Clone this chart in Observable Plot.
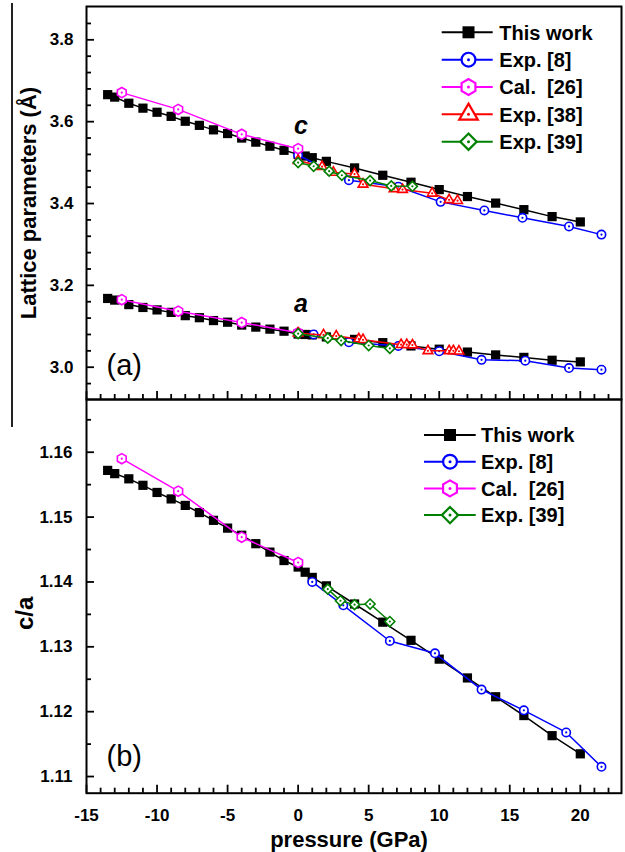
<!DOCTYPE html>
<html><head><meta charset="utf-8">
<script src="https://cdn.jsdelivr.net/npm/d3@7"></script>
<script src="https://cdn.jsdelivr.net/npm/@observablehq/plot@0.6"></script>
<style>
html,body{margin:0;padding:0;background:#fff;}
#wrap{position:relative;width:625px;height:852px;overflow:hidden;background:#fff;}
#edge{position:absolute;left:11px;top:3px;width:1.5px;height:424px;background:#222;}
</style></head><body>
<div id="wrap"><div id="edge"></div></div>
<script>
// ---------------- DATA ----------------
const seriesNames   = ["This work", "Exp. [8]", "Cal.  [26]", "Exp. [38]", "Exp. [39]"];
const seriesColors  = ["#000000", "#0000ff", "#ff00ff", "#ff0000", "#008000"];
const seriesSymbols = ["square", "circle", "hexagon", "triangle", "diamond2"];

// This work
const workP     = [-13.5,-13,-12,-11,-10,-9,-8,-7,-6,-5,-4,-3,-2,-1,0,0.5,1,2,4,6,8,10,12,14,16,18,20];
const workC     = [3.666,3.660,3.645,3.633,3.623,3.613,3.601,3.591,3.580,3.571,3.560,3.550,3.540,3.530,3.520,3.516,3.512,3.503,3.487,3.469,3.452,3.434,3.417,3.401,3.385,3.368,3.355];
const workA     = [3.168,3.164,3.153,3.146,3.140,3.134,3.126,3.121,3.114,3.110,3.103,3.098,3.093,3.088,3.081,3.080,3.079,3.074,3.068,3.060,3.052,3.044,3.037,3.030,3.024,3.017,3.013];
const workRatio = [1.1572,1.1567,1.1559,1.1549,1.1538,1.1528,1.1518,1.1507,1.1495,1.1483,1.1472,1.1459,1.1446,1.1433,1.1423,1.1415,1.1407,1.1394,1.1366,1.1338,1.1310,1.1281,1.1252,1.1223,1.1194,1.1163,1.1135];

// Exp. [8]
const exp8CP     = [0, 3.6, 7.1, 10.1, 13.2, 15.9, 19.2, 21.5];
const exp8C      = [3.518, 3.457, 3.441, 3.404, 3.383, 3.365, 3.344, 3.324];
const exp8AP     = [1.1, 3.6, 7.1, 10.0, 13.0, 16.1, 19.2, 21.5];
const exp8A      = [3.080, 3.061, 3.052, 3.039, 3.018, 3.016, 2.998, 2.994];
const exp8RatioP = [1.0, 3.2, 6.5, 9.7, 13.0, 16.0, 19.0, 21.5];
const exp8Ratio  = [1.1400, 1.1364, 1.1309, 1.1290, 1.1234, 1.1202, 1.1168, 1.1115];

// Cal. [26]
const cal26P     = [-12.5, -8.5, -4, 0];
const cal26C     = [3.671, 3.630, 3.569, 3.534];
const cal26A     = [3.165, 3.137, 3.109, 3.084];
const cal26Ratio = [1.1590, 1.1540, 1.1469, 1.1430];

// Exp. [38]
const exp38CP = [0, 1.7, 2.5, 4.0, 4.6, 6.8, 7.4, 9.5, 10.7, 11.3];
const exp38C  = [3.505, 3.490, 3.476, 3.472, 3.447, 3.436, 3.434, 3.425, 3.409, 3.407];
const exp38AP = [0, 1.8, 2.7, 4.3, 4.6, 7.3, 7.7, 8.1, 9.2, 10.7, 11.0, 11.4];
const exp38A  = [3.083, 3.079, 3.076, 3.069, 3.067, 3.055, 3.055, 3.054, 3.040, 3.040, 3.040, 3.039];

// Exp. [39]
const exp39CP     = [0, 1.1, 2.2, 3.1, 5.1, 6.6, 8.1];
const exp39C      = [3.500, 3.491, 3.479, 3.469, 3.456, 3.443, 3.442];
const exp39AP     = [0, 2.1, 3.05, 5.0, 6.5];
const exp39A      = [3.082, 3.071, 3.065, 3.053, 3.046];
const exp39RatioP = [2.1, 3.0, 4.0, 5.1, 6.5];
const exp39Ratio  = [1.1389, 1.1371, 1.1365, 1.1366, 1.1339];

// Axis ticks
const xMajor      = [-15, -10, -5, 0, 5, 10, 15, 20];
const yMajorTop   = [3.0, 3.2, 3.4, 3.6, 3.8];
const yMajorBot   = [1.11, 1.12, 1.13, 1.14, 1.15, 1.16];
const annotations = [{label: "c", P: 0.2, v: 3.570}, {label: "a", P: 0.2, v: 3.134}];

// ---------------- LAYOUT ----------------
const FONT = '"Liberation Sans", Arial, Helvetica, sans-serif';
const W = 625, ML = 86, MR = 4;
const H1 = 400, MT1 = 6, MB1 = 1;
const H2 = 453, MT2 = 0, MB2 = 59.3;
const FW = W - ML - MR;
const FH1 = H1 - MT1 - MB1, FH2 = H2 - MT2 - MB2;

const rows = (P, V, g) => P.map((p, i) => ({P: p, v: V[i], g}));
const rSym = [5.2, 4.2, 4.4, 3.6, 4.5];

function seriesMarks(data, i) {
  const color = seriesColors[i];
  const marks = [Plot.line(data, {x: "P", y: "v", z: "g", stroke: color, strokeWidth: 1.5})];
  if (i === 0) {
    marks.push(Plot.dot(data, {x: "P", y: "v", symbol: seriesSymbols[i], r: rSym[i], fill: color, stroke: "none"}));
  } else {
    marks.push(Plot.dot(data, {x: "P", y: "v", symbol: seriesSymbols[i], r: rSym[i], fill: "white", stroke: color, strokeWidth: 1.6}));
    marks.push(Plot.dot(data, {x: "P", y: "v", r: 1.1, fill: color, stroke: "none"}));
  }
  return marks;
}

const xMinor = d3.range(-15, 23, 1).filter(d => !xMajor.includes(d));
const yMinorTop = d3.range(0, 25).map(k => Math.round((2.96 + 0.04 * k) * 100) / 100).filter(d => d <= 3.86 && !yMajorTop.some(m => Math.abs(m - d) < 1e-6));
const yMinorBot = d3.range(0, 6).map(k => Math.round((1.115 + 0.01 * k) * 1000) / 1000);

function tickMarks(fh, yMaj, yMin) {
  return [
    Plot.tickX(xMajor, {x: d => d, insetTop: fh - 8, stroke: "black", strokeWidth: 1.8}),
    Plot.tickX(xMinor, {x: d => d, insetTop: fh - 5, stroke: "black", strokeWidth: 1.8}),
    Plot.tickY(yMaj, {y: d => d, insetRight: FW - 8, stroke: "black", strokeWidth: 1.8}),
    Plot.tickY(yMin, {y: d => d, insetRight: FW - 5, stroke: "black", strokeWidth: 1.8})
  ];
}

const baseStyle = {fontFamily: FONT, fontWeight: "bold", background: "transparent", overflow: "visible"};

function boldTicks(svg) {
  d3.select(svg).selectAll('g[aria-label$="tick label"]').attr("font-weight", "bold").style("font-weight", "bold");
}

// ---------------- TOP PANEL ----------------
const topSeries = [
  [...rows(workP, workC, "c"), ...rows(workP, workA, "a")],
  [...rows(exp8CP, exp8C, "c"), ...rows(exp8AP, exp8A, "a")],
  [...rows(cal26P, cal26C, "c"), ...rows(cal26P, cal26A, "a")],
  [...rows(exp38CP, exp38C, "c"), ...rows(exp38AP, exp38A, "a")],
  [...rows(exp39CP, exp39C, "c"), ...rows(exp39AP, exp39A, "a")]
];

const chartA = Plot.plot({
  width: W, height: H1,
  marginLeft: ML, marginRight: MR, marginTop: MT1, marginBottom: MB1,
  style: baseStyle,
  x: {domain: [-15, 22.92], axis: null},
  y: {domain: [2.9211, 3.8814]},
  marks: [
    ...tickMarks(FH1, yMajorTop, yMinorTop),
    Plot.axisY(yMajorTop, {anchor: "left", tickSize: 0, tickPadding: 13, fontSize: 17, fontWeight: "bold", tickFormat: d => d.toFixed(1), label: null}),
    ...topSeries.flatMap((d, i) => seriesMarks(d, i)),
    Plot.text(annotations, {x: "P", y: "v", text: "label", fontSize: 25, fontWeight: "bold", fontStyle: "italic", lineAnchor: "bottom", textAnchor: "middle"}),
    Plot.text(["(a)"], {frameAnchor: "bottom-left", dx: 20, dy: -34, textAnchor: "start", lineAnchor: "middle", fontSize: 29, fontWeight: "normal"}),
    Plot.text(["Lattice parameters (Å)"], {frameAnchor: "left", dx: -58, rotate: -90, textAnchor: "middle", lineAnchor: "middle", fontSize: 22, fontWeight: "bold"}),
    Plot.frame({stroke: "black", strokeWidth: 2})
  ]
});
boldTicks(chartA);
chartA.style.position = "absolute"; chartA.style.left = "0px"; chartA.style.top = "0px";
document.getElementById("wrap").appendChild(chartA);

// ---------------- BOTTOM PANEL ----------------
const botSeries = [
  rows(workP, workRatio, "r"),
  rows(exp8RatioP, exp8Ratio, "r"),
  rows(cal26P, cal26Ratio, "r"),
  null,
  rows(exp39RatioP, exp39Ratio, "r")
];

const chartB = Plot.plot({
  width: W, height: H2,
  marginLeft: ML, marginRight: MR, marginTop: MT2, marginBottom: MB2,
  style: baseStyle,
  x: {domain: [-15, 22.92]},
  y: {domain: [1.10743, 1.16813]},
  marks: [
    ...tickMarks(FH2, yMajorBot, yMinorBot),
    Plot.axisY(yMajorBot, {anchor: "left", tickSize: 0, tickPadding: 14, fontSize: 17, fontWeight: "bold", tickFormat: d => d.toFixed(2), label: null}),
    Plot.axisX(xMajor, {anchor: "bottom", tickSize: 0, tickPadding: 16, fontSize: 17, fontWeight: "bold", tickFormat: d => String(d), label: null}),
    ...botSeries.flatMap((d, i) => d ? seriesMarks(d, i) : []),
    Plot.text(["(b)"], {frameAnchor: "bottom-left", dx: 20, dy: -36, textAnchor: "start", lineAnchor: "middle", fontSize: 29, fontWeight: "normal"}),
    Plot.text(["c/a"], {frameAnchor: "left", dx: -61, dy: 17, rotate: -90, textAnchor: "middle", lineAnchor: "middle", fontSize: 24, fontWeight: "bold"}),
    Plot.text(["pressure (GPa)"], {frameAnchor: "bottom", dx: -5, dy: 47, lineAnchor: "middle", fontSize: 22, fontWeight: "bold"}),
    Plot.frame({stroke: "black", strokeWidth: 2})
  ]
});
boldTicks(chartB);
chartB.style.position = "absolute"; chartB.style.left = "0px"; chartB.style.top = "399px";
document.getElementById("wrap").appendChild(chartB);

// ---------------- LEGENDS ----------------
const hexagon = {draw(ctx, size) {
  const rx = Math.sqrt(size / Math.PI), ry = rx * 2 / Math.sqrt(3), hy = ry / 2;
  ctx.moveTo(0, ry); ctx.lineTo(rx, hy); ctx.lineTo(rx, -hy); ctx.lineTo(0, -ry);
  ctx.lineTo(-rx, -hy); ctx.lineTo(-rx, hy); ctx.closePath();
}};
const symType = {square: d3.symbolSquare, circle: d3.symbolCircle, hexagon: hexagon, triangle: d3.symbolTriangle, diamond2: d3.symbolDiamond2};
const legSize = {square: 144, circle: 150, hexagon: 150, triangle: 150, diamond2: 170};

const leg = d3.select("#wrap").append("svg")
  .attr("width", W).attr("height", 852)
  .style("position", "absolute").style("left", "0px").style("top", "0px")
  .style("font-family", FONT).style("font-weight", "bold");

function drawLegend(indices, x1, x2, xs, xt, y0, step) {
  indices.forEach((si, k) => {
    const y = y0 + k * step;
    const color = seriesColors[si];
    const g = leg.append("g");
    g.append("line").attr("x1", x1).attr("x2", x2).attr("y1", y).attr("y2", y)
      .attr("stroke", color).attr("stroke-width", 2);
    const sym = seriesSymbols[si];
    const path = d3.symbol(symType[sym], legSize[sym])();
    if (si === 0) {
      g.append("path").attr("d", path).attr("transform", `translate(${xs},${y})`).attr("fill", color);
    } else {
      g.append("path").attr("d", path).attr("transform", `translate(${xs},${y})`)
        .attr("fill", "white").attr("stroke", color).attr("stroke-width", 2.2);
      g.append("circle").attr("cx", xs).attr("cy", y).attr("r", 1.5).attr("fill", color);
    }
    g.append("text").attr("x", xt).attr("y", y + 7.2).attr("font-size", 20)
      .attr("fill", "black").style("white-space", "pre").attr("xml:space", "preserve")
      .text(seriesNames[si]);
  });
}
drawLegend([0, 1, 2, 3, 4], 441.7, 492.7, 468.5, 499.3, 32.3, 27.35);
drawLegend([0, 1, 2, 4], 424, 475.7, 450, 481, 435, 26.7);
</script>
</body></html>
